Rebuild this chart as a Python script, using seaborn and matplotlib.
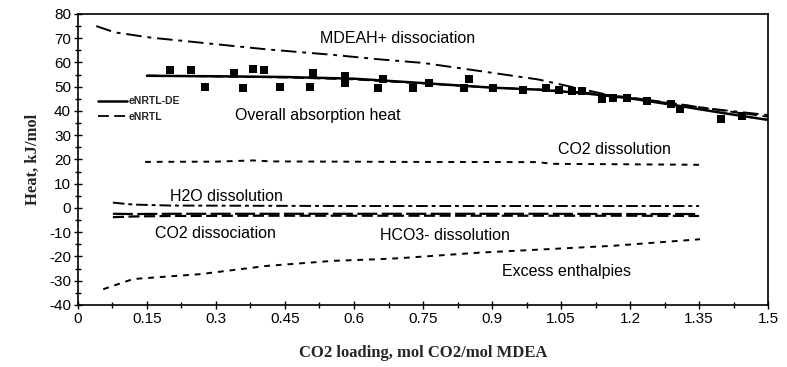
import matplotlib
matplotlib.use("Agg")
import matplotlib.pyplot as plt
import pandas as pd
import seaborn as sns
from matplotlib.ticker import MultipleLocator

sns.set_style("ticks")
plt.rcParams["font.family"] = ["Liberation Sans", "DejaVu Sans"]
plt.rcParams["axes.unicode_minus"] = False

# experimental points
loading_exp = [0.20, 0.246, 0.276, 0.34, 0.358, 0.381, 0.405, 0.44, 0.504, 0.51, 0.58, 0.58,
               0.653, 0.662, 0.729, 0.764, 0.84, 0.851, 0.903, 0.968, 1.017, 1.046, 1.073,
               1.095, 1.138, 1.162, 1.193, 1.236, 1.29, 1.309, 1.397, 1.444]
heat_exp = [56.8, 56.8, 49.9, 55.7, 49.5, 57.1, 56.7, 49.9, 49.9, 55.7, 54.6, 51.6,
            49.5, 53.3, 49.5, 51.7, 49.5, 53.0, 49.5, 48.8, 49.4, 48.8, 48.2,
            48.1, 44.8, 45.2, 45.2, 44.3, 43.0, 40.8, 36.8, 37.8]

# model: overall absorption heat
loading_tot = [0.15, 0.3, 0.45, 0.6, 0.75, 0.9, 1.0, 1.1, 1.2, 1.3, 1.4, 1.5]
heat_de = [54.5, 54.3, 54.0, 53.3, 51.5, 49.6, 48.8, 47.3, 45.2, 42.3, 39.2, 36.3]
heat_enrtl = [54.6, 54.2, 53.8, 53.0, 51.3, 49.6, 48.9, 47.6, 45.6, 43.0, 40.2, 37.6]

# contributions
loading_mdeah = [0.04, 0.08, 0.16, 0.27, 0.41, 0.55, 0.66, 0.75, 0.85, 1.0, 1.09, 1.16,
                 1.23, 1.31, 1.38, 1.5]
heat_mdeah = [75.0, 72.4, 70.2, 68.1, 65.4, 63.2, 61.2, 59.8, 57.1, 53.0, 49.2, 46.3,
              44.5, 42.6, 40.8, 38.3]

loading_co2dis = [0.146, 0.30, 0.38, 0.42, 0.70, 1.0, 1.03, 1.2, 1.35]
heat_co2dis = [19.0, 19.1, 19.6, 19.2, 19.0, 18.9, 18.2, 18.0, 17.8]

loading_h2o = [0.076, 0.12, 0.2, 0.4, 0.6, 0.8, 1.0, 1.2, 1.35]
heat_h2o = [2.2, 1.4, 1.0, 0.9, 0.8, 0.8, 0.8, 0.8, 0.8]

loading_co2diss = [0.076, 0.12, 0.2, 0.4, 0.6, 0.8, 1.0, 1.2, 1.35]
heat_co2diss = [-2.4, -2.5, -2.4, -2.4, -2.4, -2.4, -2.4, -2.5, -2.5]

loading_hco3 = [0.076, 0.12, 0.2, 0.4, 0.6, 0.8, 1.0, 1.2, 1.35]
heat_hco3 = [-3.8, -3.5, -3.3, -3.2, -3.2, -3.2, -3.2, -3.2, -3.3]

loading_excess = [0.055, 0.12, 0.265, 0.41, 0.555, 0.657, 0.7, 0.874, 1.019, 1.163, 1.352]
heat_excess = [-33.5, -29.3, -27.3, -23.9, -21.8, -21.1, -20.7, -18.4, -17.0, -15.6, -12.9]

fig = plt.figure(figsize=(7.87, 3.67), dpi=100)
ax = fig.add_axes([0.099, 0.169, 0.877, 0.793])

exp = pd.DataFrame({"x": loading_exp, "y": heat_exp})
sns.scatterplot(data=exp, x="x", y="y", marker="s", s=32, color="black",
                linewidth=0, ax=ax, zorder=5)


def draw(xs, ys, ls, lw=1.5, label=None):
    df = pd.DataFrame({"x": xs, "y": ys})
    sns.lineplot(data=df, x="x", y="y", estimator=None, sort=False, color="black",
                 linewidth=lw, linestyle=ls, ax=ax, label=label, legend=False)
    return ax.lines[-1]


l_de = draw(loading_tot, heat_de, "-", lw=1.8)
l_e = draw(loading_tot, heat_enrtl, (0, (6, 3)), lw=1.3)
draw(loading_mdeah, heat_mdeah, (0, (8, 3, 2, 3)), lw=1.4)
draw(loading_co2dis, heat_co2dis, (0, (3, 3)), lw=1.4)
draw(loading_h2o, heat_h2o, (0, (6, 2, 2, 2)), lw=1.4)
draw(loading_co2diss, heat_co2diss, (0, (9, 2)), lw=1.6)
draw(loading_hco3, heat_hco3, (0, (5, 2)), lw=1.6)
draw(loading_excess, heat_excess, (0, (3, 3)), lw=1.4)

ax.set_xlim(0, 1.5)
ax.set_ylim(-40, 80)
ax.xaxis.set_major_locator(MultipleLocator(0.15))
ax.xaxis.set_minor_locator(MultipleLocator(0.075))
ax.yaxis.set_major_locator(MultipleLocator(10))
ax.yaxis.set_minor_locator(MultipleLocator(5))
ax.set_xticklabels([f"{v:g}" for v in ax.get_xticks()])
ax.tick_params(which="both", direction="inout", length=6, width=1, labelsize=11,
               colors="black", pad=2)
ax.tick_params(which="minor", length=5)
for s in ax.spines.values():
    s.set_visible(True)
    s.set_color("black")
    s.set_linewidth(1.2)

lab = dict(family=["Liberation Serif", "DejaVu Serif"], fontweight="bold", fontsize=12)
ax.set_xlabel("CO2 loading, mol CO2/mol MDEA", labelpad=14, **lab)
ax.set_ylabel("Heat, kJ/mol", labelpad=6, **lab)

txt = dict(fontsize=11.5, color="black", va="center", ha="left")
ax.text(0.526, 70.0, "MDEAH+ dissociation", **txt)
ax.text(0.341, 38.0, "Overall absorption heat", **txt)
ax.text(1.043, 24.0, "CO2 dissolution", **txt)
ax.text(0.2, 4.9, "H2O dissolution", **txt)
ax.text(0.167, -10.7, "CO2 dissociation", **txt)
ax.text(0.657, -11.5, "HCO3- dissolution", **txt)
ax.text(0.922, -26.0, "Excess enthalpies", **txt)

ax.legend(handles=[l_de, l_e], labels=["eNRTL-DE", "eNRTL"], loc="upper left",
          bbox_to_anchor=(0.022, 0.735), frameon=False, handlelength=2.8,
          handletextpad=0.1, labelspacing=0.55, borderpad=0,
          prop=dict(size=7.5, weight="bold"))

fig.savefig("out.png", dpi=100)
